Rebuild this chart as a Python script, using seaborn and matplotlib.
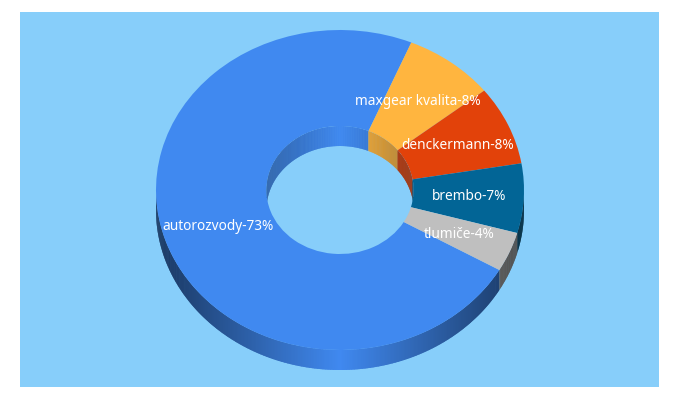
import matplotlib
matplotlib.use("Agg")
import matplotlib.pyplot as plt
import seaborn as sns
import numpy as np
from matplotlib.collections import PolyCollection
from matplotlib.patches import Ellipse

categories = ["autorozvody", "maxgear kvalita", "denckermann", "brembo", "tlumiče"]
shares = [73, 8, 8, 7, 4]
slice_colors = ["#4089F0", "#FFB53F", "#E2420A", "#026596", "#BFBFBF"]
background = "#87CEFA"

# pixel geometry of the squashed donut
W, H = 680, 400
CX, CY = 340, 190
RX, RY = 184, 160
DEPTH = 20 / RY
HOLE = 0.4
# first wedge has to end where maxgear begins, going clockwise as in the original
START = 67.2 + 262.8


def wall_quads(radius, a_from, a_to, color, keep, shade):
    """Thin quads of one slice's side wall, shaded by angle."""
    steps = max(int(abs(a_to - a_from)), 1)
    edges = np.radians(np.linspace(a_from, a_to, steps * 2 + 1))
    quads, colors = [], []
    base = np.array(matplotlib.colors.to_rgb(color))
    overlap = np.radians(0.4)  # later quads cover the seam of earlier ones
    for n, (a1, a2) in enumerate(zip(edges[:-1], edges[1:])):
        mid = (a1 + a2) / 2
        if not keep(np.sin(mid)):
            continue
        a3 = a2 if n == len(edges) - 2 else a2 + overlap
        x1, y1 = radius * np.cos(a1), radius * np.sin(a1)
        x2, y2 = radius * np.cos(a3), radius * np.sin(a3)
        quads.append([(x1, y1), (x2, y2), (x2, y2 - DEPTH), (x1, y1 - DEPTH)])
        colors.append(base * (1 - shade * abs(np.cos(mid))))
    return quads, colors


sns.set_theme(style="white")
plt.rcParams["font.family"] = ["Noto Sans", "DejaVu Sans"]

fig = plt.figure(figsize=(W / 100, H / 100), dpi=100, facecolor="white")
ax = fig.add_axes([20 / W, 1 - 387 / H, 639 / W, 375 / H])

palette = sns.color_palette(slice_colors)
labels = [f"{c}-{v}%" for c, v in zip(categories, shares)]
wedges, texts = ax.pie(
    shares, labels=labels, colors=palette, startangle=START, counterclock=False,
    radius=1, labeldistance=0.7,
    wedgeprops={"width": 1 - HOLE, "zorder": 2, "edgecolor": "none", "linewidth": 0},
    textprops={"color": "white", "fontsize": 9.85, "zorder": 5},
)
for t in texts:
    t.set_ha("center")
    t.set_va("center")
    t.set_y(t.get_position()[1] - 1 / RY)  # sits a pixel lower in the reference

# stretch the unit circle into the ellipse seen in the reference
ax.set_aspect("auto")
ax.set_xlim((20 - CX) / RX, (659 - CX) / RX)
ax.set_ylim((CY - 387) / RY, (CY - 12) / RY)
ax.set_frame_on(True)
ax.set_facecolor(background)
ax.set_xticks([])
ax.set_yticks([])
sns.despine(ax=ax, left=True, bottom=True)

outer_q, outer_c, inner_q, inner_c = [], [], [], []
for w, col in zip(wedges, slice_colors):
    q, c = wall_quads(1, w.theta1, w.theta2, col, lambda s: s < 0, 0.6)
    outer_q += q
    outer_c += c
    q, c = wall_quads(HOLE, w.theta1, w.theta2, col, lambda s: s > 0, 0.3)
    inner_q += q
    inner_c += c

ax.add_collection(PolyCollection(outer_q, facecolors=outer_c, edgecolors="none", zorder=1))

hole = Ellipse((0, 0), 2 * HOLE, 2 * HOLE, fill=False, edgecolor="none", transform=ax.transData)
ax.add_patch(hole)
inner = PolyCollection(inner_q, facecolors=inner_c, edgecolors="none", zorder=3)
ax.add_collection(inner)
inner.set_clip_path(hole)

fig.savefig("out.png", dpi=100)
